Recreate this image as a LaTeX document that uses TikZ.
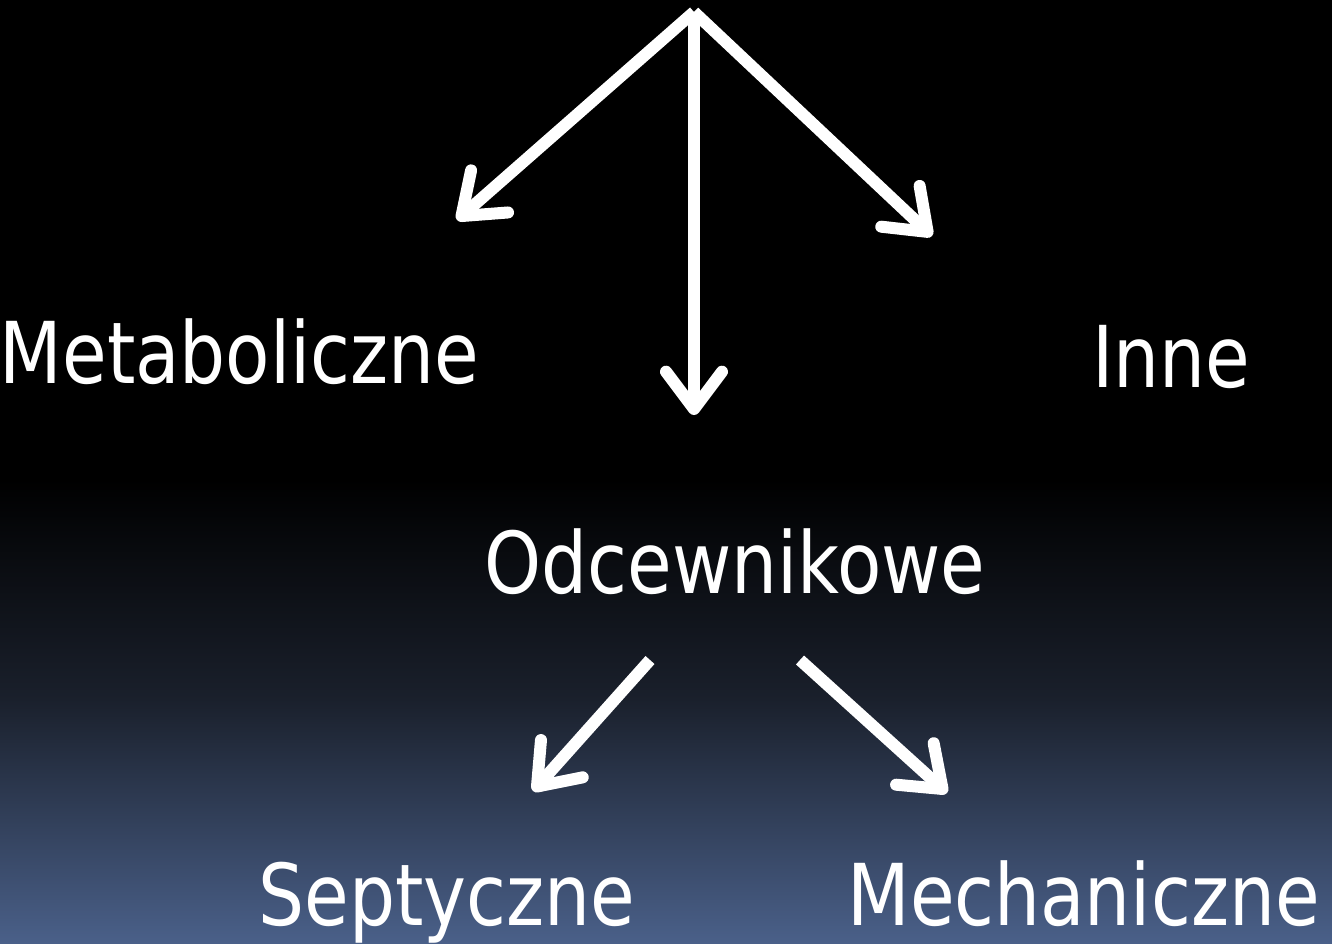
\documentclass[tikz,border=0pt]{standalone}
\usepackage{fontspec}
\setmainfont[FakeStretch=0.85]{DejaVu Sans}
\usetikzlibrary{arrows.meta}
\definecolor{bgbot}{HTML}{4A6089}
\definecolor{bgmid}{HTML}{1A202C}
\begin{document}
\begin{tikzpicture}[x=0.75pt,y=-0.75pt,
  lbl/.style={text=white,inner sep=0pt,anchor=base,font=\fontsize{64}{70}\selectfont},
  arr/.style={draw=white,line width=9pt,-{Straight Barb[length=28pt,width=42pt,round]}}]
\useasboundingbox (0,0) rectangle (1332,943);
\fill[black] (0,0) rectangle (1332,480);
\shade[top color=black,bottom color=bgmid] (0,479) rectangle (1332,700);
\shade[top color=bgmid,bottom color=bgbot] (0,699) rectangle (1332,943);
\begin{scope}
\clip (0,0) rectangle (1332,943);
\node[lbl] (met) at (239.5,383) {Metaboliczne};
\node[lbl] (inne) at (1171,387) {Inne};
\node[lbl] (odc) at (735,593) {Odcewnikowe};
\node[lbl] (sep) at (447,925) {Septyczne};
\node[lbl] (mech) at (1083.5,925) {Mechaniczne};
\end{scope}
\coordinate (top) at (694,12);
\coordinate (eL) at (457,220);
\coordinate (eM) at (694,415);
\coordinate (eR) at (932,236);
\coordinate (b0) at (650,660);
\coordinate (b1) at (800,660);
\coordinate (eS) at (533,791);
\coordinate (eC) at (947,793);
\draw[arr] (top) -- (eL);
\draw[arr] (top) -- (eM);
\draw[arr] (top) -- (eR);
\draw[arr] (b0) -- (eS);
\draw[arr] (b1) -- (eC);
\end{tikzpicture}
\end{document}
